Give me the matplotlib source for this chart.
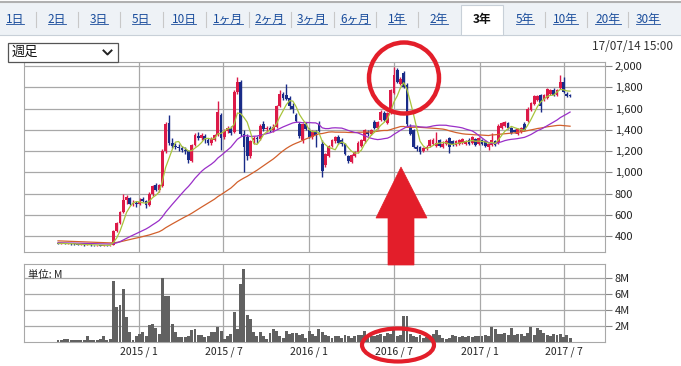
import matplotlib
matplotlib.use("Agg")
import matplotlib.pyplot as plt
import matplotlib.dates as mdates
from matplotlib.patches import Rectangle, Ellipse, Polygon
from matplotlib.lines import Line2D
from matplotlib.transforms import Affine2D
from matplotlib.ticker import FuncFormatter
import numpy as np
import pandas as pd

plt.rcParams['font.family'] = ['Noto Sans CJK JP', 'DejaVu Sans']

W, H = 681, 366

# 週足データ (2014/07/11 - 2017/07/14)
weeks = pd.date_range('2014-07-11', '2017-07-14', freq='7D')

open_ = [330, 328, 333, 326, 330, 324, 322, 318, 320, 316, 322, 318, 312, 316, 310, 314, 312,
         318, 450, 520, 630, 740, 760, 705, 710, 700, 750, 730, 690, 800, 880, 830,
         870, 1200, 1460, 1280, 1250, 1240, 1230, 1210, 1200, 1110, 1260, 1340, 1320, 1340, 1300, 1280, 1300, 1350, 1540, 1330, 1390, 1420,
         1380, 1760, 1850, 1360, 1330, 1150, 1300, 1320, 1310, 1450, 1410, 1420, 1400, 1430, 1620, 1740, 1730, 1700, 1620, 1540, 1450, 1300, 1450, 1400, 1330, 1380, 1450,
         1270, 1070, 1150, 1250, 1290, 1330, 1300, 1270, 1150, 1100, 1150, 1190, 1250, 1290, 1380, 1360, 1470, 1420, 1490, 1560, 1460, 1560, 1750, 1960, 1830, 1930,
         1820, 1430, 1400, 1240, 1240, 1200, 1220, 1250, 1270, 1250, 1300, 1240, 1270, 1320, 1290, 1260, 1270, 1280, 1270, 1300, 1280, 1310, 1270, 1300, 1290, 1240, 1260, 1290,
         1280, 1420, 1440, 1460, 1420, 1400, 1360, 1380, 1450, 1480, 1590, 1640, 1680, 1730, 1680, 1700, 1740, 1770, 1730, 1790, 1850, 1740, 1730]
close = [328, 333, 326, 330, 324, 322, 318, 320, 316, 322, 318, 312, 316, 310, 314, 312, 316,
         450, 520, 630, 740, 770, 705, 710, 700, 720, 730, 690, 800, 870, 830, 880,
         1200, 1450, 1280, 1250, 1240, 1230, 1210, 1200, 1120, 1260, 1350, 1320, 1350, 1300, 1280, 1310, 1350, 1570, 1320, 1390, 1420, 1370,
         1760, 1850, 1360, 1240, 1150, 1290, 1320, 1310, 1440, 1410, 1420, 1400, 1430, 1620, 1740, 1700, 1690, 1620, 1600, 1480, 1340, 1450, 1410, 1330, 1380, 1350, 1390,
         1010, 1170, 1250, 1300, 1330, 1280, 1270, 1170, 1110, 1160, 1190, 1280, 1300, 1400, 1360, 1400, 1420, 1470, 1570, 1490, 1560, 1770, 1920, 1850, 1880, 1800,
         1450, 1360, 1240, 1220, 1190, 1230, 1240, 1300, 1300, 1280, 1250, 1270, 1290, 1240, 1260, 1290, 1300, 1310, 1290, 1270, 1330, 1260, 1320, 1270, 1250, 1270, 1300, 1260,
         1440, 1460, 1470, 1420, 1370, 1380, 1410, 1420, 1400, 1600, 1650, 1720, 1720, 1620, 1730, 1780, 1770, 1730, 1770, 1850, 1760, 1720, 1720]
high = [336, 338, 338, 334, 334, 330, 326, 324, 324, 328, 324, 320, 320, 318, 318, 318, 320,
        460, 530, 640, 800, 790, 770, 740, 730, 760, 770, 740, 810, 880, 900, 890,
        1220, 1470, 1540, 1320, 1280, 1270, 1250, 1240, 1210, 1270, 1370, 1380, 1370, 1360, 1320, 1330, 1360, 1670, 1560, 1410, 1440, 1440,
        1770, 1900, 1870, 1400, 1360, 1300, 1340, 1340, 1450, 1480, 1440, 1440, 1450, 1630, 1775, 1760, 1830, 1720, 1650, 1560, 1470, 1460, 1470, 1420, 1400, 1400, 1480,
        1300, 1180, 1260, 1310, 1340, 1350, 1320, 1280, 1160, 1170, 1200, 1290, 1310, 1410, 1400, 1410, 1490, 1480, 1590, 1580, 1570, 1780, 1990, 1980, 1900, 1950,
        1840, 1450, 1410, 1260, 1250, 1240, 1260, 1310, 1320, 1380, 1310, 1290, 1310, 1330, 1300, 1300, 1310, 1320, 1300, 1320, 1340, 1320, 1330, 1310, 1300, 1280, 1370, 1300,
        1450, 1470, 1480, 1470, 1430, 1410, 1420, 1430, 1470, 1610, 1660, 1730, 1730, 1740, 1740, 1790, 1780, 1790, 1780, 1915, 1900, 1760, 1740]
low = [322, 324, 322, 322, 318, 316, 312, 312, 310, 312, 310, 306, 308, 304, 306, 306, 308,
       316, 440, 510, 620, 700, 690, 680, 670, 690, 720, 660, 680, 780, 820, 810,
       860, 1180, 1260, 1230, 1220, 1200, 1190, 1170, 1090, 1100, 1250, 1300, 1300, 1280, 1260, 1260, 1290, 1340, 1210, 1310, 1370, 1350,
       1370, 1740, 1340, 1000, 1120, 1130, 1270, 1280, 1300, 1390, 1380, 1380, 1380, 1420, 1610, 1680, 1680, 1600, 1560, 1470, 1320, 1280, 1400, 1320, 1310, 1240, 1380,
       960, 1050, 1140, 1240, 1280, 1270, 1250, 1160, 1090, 1090, 1140, 1180, 1240, 1280, 1340, 1350, 1410, 1410, 1480, 1480, 1450, 1550, 1740, 1840, 1820, 1790,
       1440, 1350, 1230, 1200, 1170, 1190, 1210, 1240, 1260, 1240, 1240, 1230, 1260, 1180, 1250, 1250, 1260, 1270, 1260, 1260, 1270, 1250, 1260, 1260, 1240, 1210, 1250, 1250,
       1270, 1410, 1430, 1410, 1360, 1370, 1350, 1370, 1390, 1470, 1580, 1630, 1670, 1570, 1670, 1690, 1730, 1720, 1720, 1780, 1750, 1710, 1710]
# 出来高 (百万株)
volume = [0.2, 0.3, 0.4, 0.4, 0.2, 0.3, 0.3, 0.2, 0.3, 0.8, 0.3, 0.3, 0.3, 0.4, 0.8, 0.3, 0.4,
          7.6, 4.4, 4.6, 6.6, 3.1, 1.2, 0.3, 0.8, 1.0, 1.3, 0.8, 2.1, 2.2, 1.7, 1.0,
          8.0, 5.8, 5.8, 2.3, 1.2, 0.6, 0.6, 0.6, 0.7, 1.5, 1.6, 0.9, 0.9, 0.6, 0.7, 1.2, 1.2, 1.9, 1.4, 0.4, 0.7, 1.0,
          3.8, 1.6, 7.3, 9.1, 3.4, 2.9, 1.2, 0.7, 1.2, 0.8, 0.4, 1.1, 1.6, 1.4, 0.8, 0.5, 1.4, 1.0, 1.1, 1.1, 0.9, 1.0, 0.5, 1.4, 1.0, 0.7, 1.6,
          1.2, 0.9, 0.7, 0.5, 0.8, 0.7, 0.5, 0.9, 0.7, 0.5, 0.7, 0.9, 0.9, 1.4, 0.6, 0.8, 0.7, 0.9, 1.0, 0.8, 1.1, 1.0, 1.5, 0.8, 0.9, 3.3,
          3.2, 1.0, 0.8, 0.6, 0.9, 0.5, 0.6, 0.5, 1.0, 1.5, 0.9, 0.5, 0.4, 0.5, 0.9, 0.7, 0.6, 0.7, 0.6, 0.7, 0.6, 0.7, 0.7, 0.7, 0.9, 0.7, 1.9, 1.6,
          1.0, 1.0, 1.1, 0.9, 1.8, 0.9, 1.0, 1.0, 0.7, 1.1, 1.9, 0.9, 1.8, 1.5, 1.1, 0.9, 0.7, 1.0, 0.9, 1.0, 0.6, 0.9, 0.5]
# 移動平均用の期間前の終値
prior_close = [395, 400, 392, 388, 396, 390, 385, 380, 384, 378, 372, 375, 370, 366, 372, 368, 362,
               365, 360, 356, 362, 358, 352, 355, 350, 346, 352, 348, 344, 348, 342, 345, 340, 338,
               344, 340, 336, 340, 338, 334, 338, 335, 332, 336, 334, 330, 334, 332, 330, 333, 331]

tabs = ['1日', '2日', '3日', '5日', '10日', '1ヶ月', '2ヶ月', '3ヶ月', '6ヶ月',
        '1年', '2年', '3年', '5年', '10年', '20年', '30年']
tab_x = [15, 57, 99, 141, 184, 228, 270, 312, 355, 397, 439, 482, 525, 565, 608, 648]
selected_tab = '3年'
grid_dates = pd.to_datetime(['2015-01-01', '2015-07-01', '2016-01-01',
                             '2016-07-01', '2017-01-01', '2017-07-01'])
grid_labels = ['2015 / 1', '2015 / 7', '2016 / 1', '2016 / 7', '2017 / 1', '2017 / 7']
price_ticks = [400, 600, 800, 1000, 1200, 1400, 1600, 1800, 2000]
vol_ticks = [2, 4, 6, 8]

# 移動平均線 (5週・26週・52週)
all_close = pd.Series(prior_close + close)
ma5 = all_close.rolling(5).mean().values[-len(close):]
ma26 = all_close.rolling(26).mean().values[-len(close):]
ma52 = all_close.rolling(52).mean().values[-len(close):]

fig = plt.figure(figsize=(W / 100, H / 100), dpi=100)
fig.patch.set_facecolor('white')
px = Affine2D().scale(1 / W, -1 / H).translate(0, 1) + fig.transFigure


def fx(x):
    return x / W


def fy(y):
    return 1 - y / H


# タブバー
fig.add_artist(Rectangle((0, 2), W, 33, transform=px, facecolor='#eef2f6', edgecolor='none'))
fig.add_artist(Line2D([0, W], [2, 2], transform=px, color='#b0b0b0', lw=1.5))
fig.add_artist(Line2D([0, W], [34.5, 34.5], transform=px, color='#c8d0d8', lw=0.8))
fig.add_artist(Rectangle((461, 5), 42, 30, transform=px, facecolor='white', edgecolor='#c8d0d8', lw=0.8))
fig.add_artist(Rectangle((461.5, 33), 41, 3, transform=px, facecolor='white', edgecolor='none'))
tab_texts = []
for i, (lab, cx) in enumerate(zip(tabs, tab_x)):
    if lab == selected_tab:
        fig.text(fx(cx), fy(19), lab, ha='center', va='center', fontsize=8.5,
                 fontweight='bold', color='#111111')
    else:
        t = fig.text(fx(cx), fy(19), lab, ha='center', va='center', fontsize=8.5, color='#1a4d9c')
        tab_texts.append(t)
    if i < len(tabs) - 1:
        sx = (cx + tab_x[i + 1]) / 2
        if lab != selected_tab and tabs[i + 1] != selected_tab:
            fig.add_artist(Line2D([sx, sx], [12, 27], transform=px, color='#c8c8c8', lw=0.8))
fig.canvas.draw()
for t in tab_texts:
    bb = t.get_window_extent().transformed(fig.transFigure.inverted())
    fig.add_artist(Line2D([bb.x0, bb.x1], [bb.y0 + 0.004, bb.y0 + 0.004],
                          transform=fig.transFigure, color='#1a4d9c', lw=0.6))

# 足種セレクト
fig.add_artist(Rectangle((8, 43), 110, 19, transform=px, facecolor='white', edgecolor='#555555', lw=0.9))
fig.text(fx(12), fy(52.5), '週足', ha='left', va='center', fontsize=9.5, color='#111111')
fig.add_artist(Line2D([103.5, 107.5, 111.5], [50.5, 54.5, 50.5], transform=px, color='#222222', lw=1.4))
fig.text(fx(673), fy(47), '17/07/14 15:00', ha='right', va='center', fontsize=8.5, color='#333333')

grid_col = '#a8a8a8'
xmin, xmax = pd.Timestamp('2014-04-29'), pd.Timestamp('2017-09-27')

# 株価チャート
ax = fig.add_axes([fx(24), fy(252), 581 / W, 190 / H])
ax.set_xlim(xmin, xmax)
ax.set_ylim(250, 2038)
up = np.array(close) >= np.array(open_)
xd = mdates.date2num(weeks)
body_lo = np.minimum(open_, close)
body_h = np.maximum(np.abs(np.array(close) - np.array(open_)), 8)
colors = np.where(up, '#dc1a48', '#1a2c88')
ax.vlines(xd, low, high, colors=colors, lw=1.0, zorder=3)
ax.bar(xd, body_h, bottom=body_lo, width=6.0, color=colors, zorder=4, linewidth=0)
ax.plot(weeks, ma52, color='#d2602c', lw=0.9, zorder=5)
ax.plot(weeks, ma26, color='#9a2fc8', lw=0.9, zorder=5)
ax.plot(weeks, ma5, color='#a8c43c', lw=0.9, zorder=5)
ax.set_yticks(price_ticks)
ax.yaxis.set_major_formatter(FuncFormatter(lambda v, p: f'{int(v):,}'))
ax.yaxis.tick_right()
ax.set_xticks(grid_dates)
ax.tick_params(axis='x', length=0, labelbottom=False)
ax.tick_params(axis='y', length=5, color='#888888', labelsize=8, labelcolor='#222222', pad=2)
ax.grid(True, color=grid_col, lw=0.9)
ax.set_axisbelow(True)
for s in ax.spines.values():
    s.set_color(grid_col)

# 出来高
vax = fig.add_axes([fx(24), fy(342), 581 / W, 78 / H])
vax.set_xlim(xmin, xmax)
vax.set_ylim(0, 9.75)
vax.bar(weeks, volume, width=6.3, color='#616161', linewidth=0, zorder=3)
vax.set_yticks(vol_ticks)
vax.set_yticklabels([f'{v}M' for v in vol_ticks])
vax.yaxis.tick_right()
vax.set_xticks(grid_dates)
vax.set_xticklabels(grid_labels)
vax.tick_params(axis='x', length=0, labelsize=7.5, labelcolor='#222222', pad=3)
vax.tick_params(axis='y', length=5, color='#888888', labelsize=8, labelcolor='#222222', pad=2)
vax.grid(True, color=grid_col, lw=0.9)
vax.set_axisbelow(True)
for s in vax.spines.values():
    s.set_color(grid_col)
vax.text(0.007, 0.86, '単位: M', transform=vax.transAxes, fontsize=7.5, color='#222222', va='center')

# 注目箇所の赤丸と矢印
red = '#e31e2a'
fig.add_artist(Ellipse((404, 78), 70, 71, transform=px, fill=False, edgecolor=red, lw=3.2, zorder=10))
fig.add_artist(Ellipse((398, 345), 72, 33, transform=px, fill=False, edgecolor=red, lw=3.0, zorder=10))
fig.add_artist(Polygon([(401, 167), (376, 218), (388, 218), (388, 265), (414, 265), (414, 218), (427, 218)],
                       closed=True, transform=px, facecolor=red, edgecolor=red, lw=0.5, zorder=10))

fig.savefig('out.png', dpi=100)
